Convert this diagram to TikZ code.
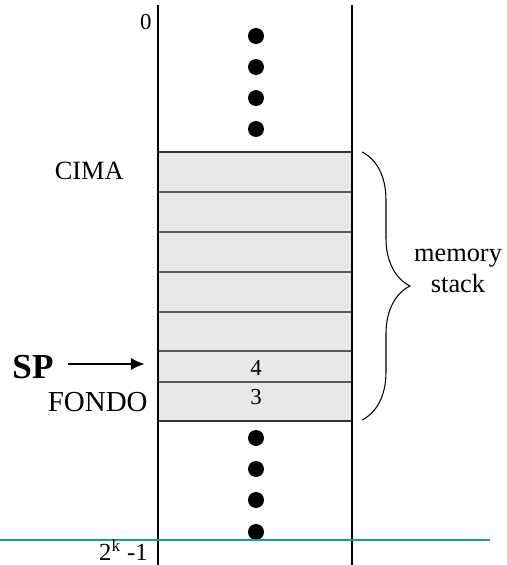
\documentclass[tikz,border=0pt]{standalone}
\usepackage{fontspec}
\setmainfont{Liberation Serif}
\usetikzlibrary{decorations.pathreplacing,arrows.meta}
\definecolor{tealline}{RGB}{20,160,160}
\definecolor{cellgray}{RGB}{232,232,232}
\begin{document}
\begin{tikzpicture}[x=0.02cm,y=-0.02cm,
    cell/.style={fill=cellgray,draw=black!65,line width=0.6pt},
    dot/.style={fill=black},
    lbl/.style={font=\fontsize{15}{18}\selectfont,inner sep=0pt}]
    \useasboundingbox (0,0) rectangle (507,565);

    % Define coordinates for the memory column
    \coordinate (LT) at (158,5);
    \coordinate (LB) at (158,565);
    \coordinate (RT) at (352,5);
    \coordinate (RB) at (352,565);

    % Draw the stack cells
    \foreach \ytop/\ybot in {152/192,192/232,232/272,272/312,312/351,351/382,382/421}
      \filldraw[cell] (158,\ytop) rectangle (352,\ybot);
    \draw[line width=1.1pt,black!80] (158,152) -- (352,152);
    \draw[line width=1.1pt,black!80] (158,421) -- (352,421);

    % Draw the column walls
    \draw[line width=0.7pt] (LT) -- (LB);
    \draw[line width=0.7pt] (RT) -- (RB);

    % Draw the dots
    \foreach \y in {36,67,98,129,438,469,500,532}
      \fill[dot] (256,\y) circle[radius=0.16cm];

    % Cyan base line
    \draw[tealline,line width=1.2pt] (0,540) -- (490,540);

    % Add the labels
    \node[lbl,font=\fontsize{13}{16}\selectfont,anchor=east] (zero) at (152,22) {0};
    \node[lbl,anchor=east] (cima) at (124,171) {CIMA};
    \node[lbl,font=\fontsize{16.5}{19}\selectfont,anchor=east] (fondo) at (148,402) {FONDO};
    \node[lbl,font=\fontsize{13}{16}\selectfont] (four) at (256,368) {4};
    \node[lbl,font=\fontsize{13}{16}\selectfont] (three) at (256,397) {3};
    \node[lbl,font=\fontsize{14}{16}\selectfont,anchor=east] (last) at (148,550) {2\textsuperscript{k} -1};
    \node[font=\fontsize{20}{24}\selectfont\bfseries,inner sep=0pt] (sp) at (33,367) {SP};
    \node[lbl,align=center] (memstack) at (458,271) {memory\\stack};

    % SP arrow
    \coordinate (spin) at (145,364);
    \draw[-{Latex[length=8pt,width=7pt]},line width=1.5pt,shorten <=8pt] (sp.east |- spin) -- (spin);

    % Brace round the stack
    \draw[decorate,decoration={brace,amplitude=0.96cm},line width=0.6pt] (362,152) -- (362,420);
\end{tikzpicture}
\end{document}
